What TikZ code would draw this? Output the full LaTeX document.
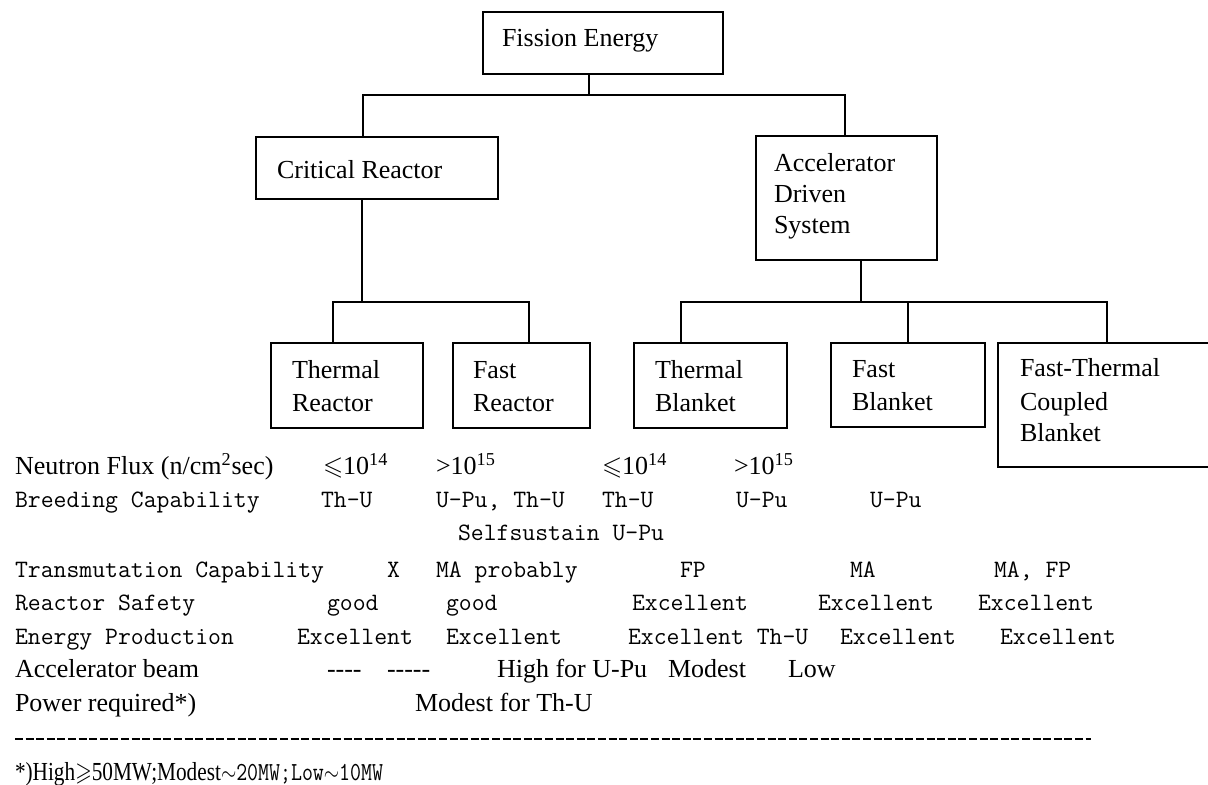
\documentclass[tikz,border=0pt]{standalone}
\usepackage{fontspec}
\usepackage{amssymb}
\usepackage{graphicx}
\setmainfont{Liberation Serif}
\begin{document}
\begin{tikzpicture}[x=0.5pt,y=-0.5pt,
  box/.style={draw,line width=1pt,anchor=north west,inner sep=0pt,outer sep=0pt},
  txt/.style={anchor=base west,inner sep=0pt,outer sep=0pt,font=\fontsize{13}{15}\selectfont},
  mtxt/.style={anchor=base west,inner sep=0pt,outer sep=0pt,font=\fontsize{12.5}{15}\selectfont\ttfamily},
  conn/.style={line width=1pt}]
\useasboundingbox (0,0) rectangle (1208,785);
\clip (0,0) rectangle (1208,785);
\fill[white] (0,0) rectangle (1208,785);

% ---- boxes
\node[box,minimum width=120pt,minimum height=31pt] (fe) at (483,12) {};
\node[box,minimum width=121pt,minimum height=31pt] (cr) at (256,137) {};
\node[box,minimum width=90.5pt,minimum height=62pt] (ads) at (756,136) {};
\node[box,minimum width=76pt,minimum height=42.5pt] (tr) at (271,343) {};
\node[box,minimum width=68.5pt,minimum height=42.5pt] (fr) at (453,343) {};
\node[box,minimum width=76.5pt,minimum height=42.5pt] (tb) at (634,343) {};
\node[box,minimum width=77pt,minimum height=42pt] (fb) at (831,343) {};
\node[box,minimum width=115pt,minimum height=62pt] (ftb) at (998,343) {};

% ---- box texts
\node[txt] (feT) at (502,47) {Fission Energy};
\node[txt] (crT) at (277,179) {Critical Reactor};
\node[txt] (adsT1) at (774,172) {Accelerator};
\node[txt] (adsT2) at (774,203) {Driven};
\node[txt] (adsT3) at (774,234) {System};
\node[txt] (trT1) at (292,379) {Thermal};
\node[txt] (trT2) at (292,412) {Reactor};
\node[txt] (frT1) at (473,379) {Fast};
\node[txt] (frT2) at (473,412) {Reactor};
\node[txt] (tbT1) at (655,379) {Thermal};
\node[txt] (tbT2) at (655,412) {Blanket};
\node[txt] (fbT1) at (852,378) {Fast};
\node[txt] (fbT2) at (852,410) {Blanket};
\node[txt] (ftbT1) at (1020,377) {Fast-Thermal};
\node[txt] (ftbT2) at (1020,410) {Coupled};
\node[txt] (ftbT3) at (1020,442) {Blanket};

% ---- connectors
\coordinate (b1l) at (363,95);
\coordinate (b1m) at (589,95);
\coordinate (b1r) at (845,95);
\draw[conn] (b1m |- fe.south) -- (b1m);
\draw[conn] (b1l |- cr.north) -- (b1l) -- (b1r) -- (b1r |- ads.north);

\coordinate (b2l) at (333,302);
\coordinate (b2m) at (362,302);
\coordinate (b2r) at (529,302);
\draw[conn] (b2m |- cr.south) -- (b2m);
\draw[conn] (b2l |- tr.north) -- (b2l) -- (b2r) -- (b2r |- fr.north);

\coordinate (b3l) at (681,302);
\coordinate (b3s) at (861,302);
\coordinate (b3m) at (908,302);
\coordinate (b3r) at (1107,302);
\draw[conn] (b3s |- ads.south) -- (b3s);
\draw[conn] (b3l |- tb.north) -- (b3l) -- (b3r) -- (b3r |- ftb.north);
\draw[conn] (b3m) -- (b3m |- fb.north);

% ---- table
% row 1
\node[txt] (r1a) at (15,474) {Neutron Flux (n/cm\textsuperscript{2}sec)};
\node[txt] (r1b) at (323,474) {$\leqslant$10\textsuperscript{14}};
\node[txt] (r1c) at (436,474) {>10\textsuperscript{15}};
\node[txt] (r1d) at (602,474) {$\leqslant$10\textsuperscript{14}};
\node[txt] (r1e) at (734,474) {>10\textsuperscript{15}};
% row 2
\node[mtxt] (r2a) at (15,507) {Breeding Capability};
\node[mtxt] (r2b) at (321,507) {Th-U};
\node[mtxt] (r2c) at (436,507) {U-Pu, Th-U};
\node[mtxt] (r2d) at (602,507) {Th-U};
\node[mtxt] (r2e) at (736,507) {U-Pu};
\node[mtxt] (r2f) at (870,507) {U-Pu};
\node[mtxt] (r2g) at (458,540) {Selfsustain U-Pu};
% row 3
\node[mtxt] (r3a) at (15,577) {Transmutation Capability};
\node[mtxt] (r3b) at (387,577) {X};
\node[mtxt] (r3c) at (436,577) {MA probably};
\node[mtxt] (r3d) at (680,577) {FP};
\node[mtxt] (r3e) at (850,577) {MA};
\node[mtxt] (r3f) at (994,577) {MA, FP};
% row 4
\node[mtxt] (r4a) at (15,610) {Reactor Safety};
\node[mtxt] (r4b) at (327,610) {good};
\node[mtxt] (r4c) at (446,610) {good};
\node[mtxt] (r4d) at (632,610) {Excellent};
\node[mtxt] (r4e) at (818,610) {Excellent};
\node[mtxt] (r4f) at (978,610) {Excellent};
% row 5
\node[mtxt] (r5a) at (15,644) {Energy Production};
\node[mtxt] (r5b) at (297,644) {Excellent};
\node[mtxt] (r5c) at (446,644) {Excellent};
\node[mtxt] (r5d) at (628,644) {Excellent Th-U};
\node[mtxt] (r5e) at (840,644) {Excellent};
\node[mtxt] (r5f) at (1000,644) {Excellent};
% row 6
\node[txt] (r6a) at (15,677) {Accelerator beam};
\node[txt] (r6b) at (327,677) {-{}-{}-{}-};
\node[txt] (r6c) at (387,677) {-{}-{}-{}-{}-};
\node[txt] (r6d) at (497,677) {High for U-Pu};
\node[txt] (r6e) at (668,677) {Modest};
\node[txt] (r6f) at (788,677) {Low};
% row 7
\node[txt] (r7a) at (15,711) {Power required*)};
\node[txt] (r7b) at (415,711) {Modest for Th-U};

% ---- separator and footnote
\coordinate (dl) at (15,739);
\coordinate (dr) at (1091,739);
\draw[line width=1.2pt,dash pattern=on 4pt off 1.3pt] (dl) -- (dr);
\node[txt] (fn) at (15,780) {\resizebox{184pt}{\height}{*)High$\geqslant$50MW;Modest$\sim${\ttfamily 20MW;Low}$\sim${\ttfamily 10MW}}};
\end{tikzpicture}
\end{document}
